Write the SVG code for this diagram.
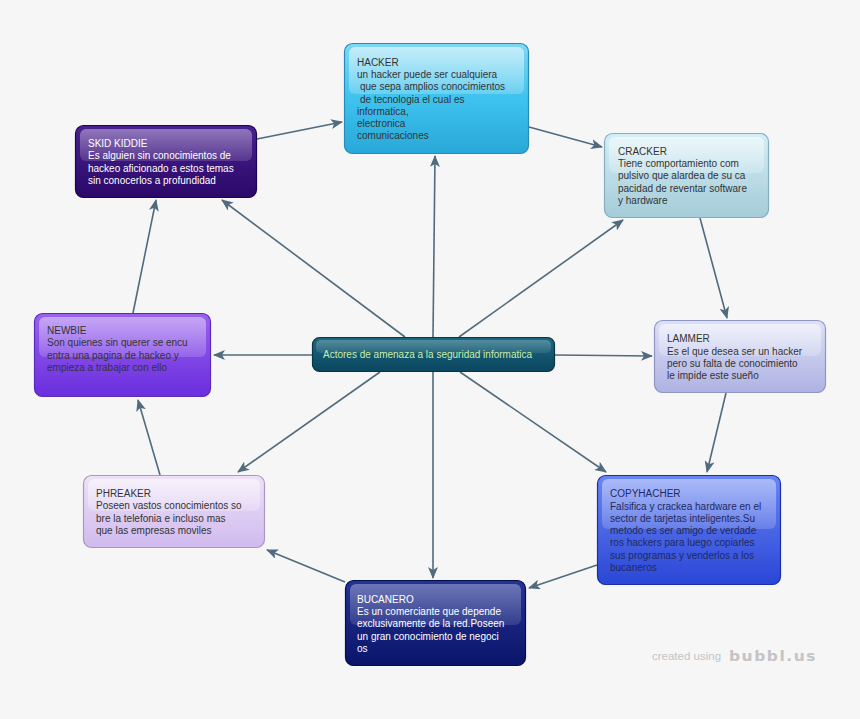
<svg xmlns="http://www.w3.org/2000/svg" width="860" height="719" viewBox="0 0 860 719">
<style>
.t{font-family:"Liberation Sans",Arial,sans-serif;font-size:10px;}
.dk{fill:#333333;}
.lt{fill:#ffffff;}
.edge{stroke:#4f6b7d;stroke-width:1.6;fill:none;marker-end:url(#ah);}
.box{stroke-width:1.2;}
.hl{fill:url(#gl);}
</style>
<defs>
<marker id="ah" viewBox="0 0 12 10" refX="11" refY="5" markerWidth="12" markerHeight="10" markerUnits="userSpaceOnUse" orient="auto">
<path d="M0,0 L12,5 L0,10 L3,5 Z" fill="#4f6b7d"/>
</marker>
<linearGradient id="gl" x1="0" y1="0" x2="0" y2="1">
<stop offset="0" stop-color="#fff" stop-opacity="0.55"/>
<stop offset="1" stop-color="#fff" stop-opacity="0.2"/>
</linearGradient>
<linearGradient id="gHack" x1="0" y1="0" x2="0" y2="1"><stop offset="0" stop-color="#7ed8f4"/><stop offset="0.5" stop-color="#3ec2ee"/><stop offset="1" stop-color="#28a8d8"/></linearGradient>
<linearGradient id="gSkid" x1="0" y1="0" x2="0" y2="1"><stop offset="0" stop-color="#4a2290"/><stop offset="1" stop-color="#2a0868"/></linearGradient>
<linearGradient id="gCrack" x1="0" y1="0" x2="0" y2="1"><stop offset="0" stop-color="#d4eef6"/><stop offset="1" stop-color="#a4ccd8"/></linearGradient>
<linearGradient id="gNew" x1="0" y1="0" x2="0" y2="1"><stop offset="0" stop-color="#9a62ee"/><stop offset="1" stop-color="#6a2ede"/></linearGradient>
<linearGradient id="gLam" x1="0" y1="0" x2="0" y2="1"><stop offset="0" stop-color="#dde1f6"/><stop offset="1" stop-color="#aeb2e2"/></linearGradient>
<linearGradient id="gCen" x1="0" y1="0" x2="0" y2="1"><stop offset="0" stop-color="#1c6880"/><stop offset="1" stop-color="#0b4660"/></linearGradient>
<linearGradient id="gPh" x1="0" y1="0" x2="0" y2="1"><stop offset="0" stop-color="#ede2f8"/><stop offset="1" stop-color="#d0baee"/></linearGradient>
<linearGradient id="gCopy" x1="0" y1="0" x2="0" y2="1"><stop offset="0" stop-color="#6a86f4"/><stop offset="1" stop-color="#2a46d6"/></linearGradient>
<linearGradient id="gBuc" x1="0" y1="0" x2="0" y2="1"><stop offset="0" stop-color="#243494"/><stop offset="1" stop-color="#0a146a"/></linearGradient>
</defs>
<rect x="0" y="0" width="860" height="719" fill="#f6f6f6"/>

<g id="connectors">
<line class="edge" x1="433" y1="337" x2="435" y2="156"/>
<line class="edge" x1="405" y1="337" x2="222" y2="200"/>
<line class="edge" x1="459" y1="337" x2="623" y2="220"/>
<line class="edge" x1="312" y1="355" x2="214" y2="355"/>
<line class="edge" x1="555" y1="355" x2="652" y2="356"/>
<line class="edge" x1="380" y1="372" x2="238" y2="472"/>
<line class="edge" x1="460" y1="372" x2="606" y2="472"/>
<line class="edge" x1="433" y1="372" x2="433" y2="578"/>
<line class="edge" x1="257" y1="139" x2="342" y2="122"/>
<line class="edge" x1="529" y1="127" x2="602" y2="147"/>
<line class="edge" x1="700" y1="218" x2="727" y2="318"/>
<line class="edge" x1="726" y1="393" x2="707" y2="472"/>
<line class="edge" x1="597" y1="565" x2="529" y2="588"/>
<line class="edge" x1="345" y1="582" x2="267" y2="550"/>
<line class="edge" x1="160" y1="475" x2="138" y2="400"/>
<line class="edge" x1="133" y1="313" x2="156" y2="200"/>
</g>

<g id="hacker">
<rect class="box" x="344.5" y="43.5" width="184" height="110" rx="8" fill="url(#gHack)" stroke="#2a8ab5"/>
<rect class="hl" x="349" y="47" width="175" height="47" rx="6"/>
<text class="t dk"><tspan x="357" y="66">HACKER</tspan><tspan x="357" y="78">un hacker puede ser cualquiera</tspan><tspan x="360" y="90">que sepa amplios conocimientos</tspan><tspan x="360" y="102.5">de tecnologia el cual es</tspan><tspan x="357" y="114.5">informatica,</tspan><tspan x="357" y="127">electronica</tspan><tspan x="357" y="139">comunicaciones</tspan></text>
</g>

<g id="skid">
<rect class="box" x="75.5" y="125.5" width="181" height="72" rx="8" fill="url(#gSkid)" stroke="#1a0550"/>
<rect class="hl" x="80" y="129" width="172" height="32" rx="6" opacity="0.7"/>
<text class="t lt"><tspan x="88" y="147">SKID KIDDIE</tspan><tspan x="88" y="159">Es alguien sin conocimientos de</tspan><tspan x="88" y="172">hackeo aficionado a estos temas</tspan><tspan x="88" y="184">sin conocerlos a profundidad</tspan></text>
</g>

<g id="cracker">
<rect class="box" x="604.5" y="133.5" width="164" height="84" rx="8" fill="url(#gCrack)" stroke="#86aebe"/>
<rect class="hl" x="609" y="137" width="155" height="36" rx="6"/>
<text class="t dk"><tspan x="618" y="155">CRACKER</tspan><tspan x="618" y="167">Tiene comportamiento com</tspan><tspan x="618" y="179">pulsivo que alardea de su ca</tspan><tspan x="618" y="192">pacidad de reventar software</tspan><tspan x="618" y="204">y hardware</tspan></text>
</g>

<g id="newbie">
<rect class="box" x="34.5" y="313.5" width="176" height="83" rx="8" fill="url(#gNew)" stroke="#5a2ab8"/>
<rect class="hl" x="39" y="317" width="167" height="40" rx="6" opacity="0.8"/>
<text class="t dk"><tspan x="47" y="334">NEWBIE</tspan><tspan x="47" y="346">Son quienes sin querer se encu</tspan><tspan x="47" y="359">entra una pagina de hackeo y</tspan><tspan x="47" y="371">empieza a trabajar con ello</tspan></text>
</g>

<g id="lammer">
<rect class="box" x="654.5" y="320.5" width="171" height="72" rx="8" fill="url(#gLam)" stroke="#8f96c6"/>
<rect class="hl" x="659" y="324" width="162" height="32" rx="6"/>
<text class="t dk"><tspan x="667" y="342">LAMMER</tspan><tspan x="667" y="355">Es el que desea ser un hacker</tspan><tspan x="667" y="367">pero su falta de conocimiento</tspan><tspan x="667" y="379">le impide este sueño</tspan></text>
</g>

<g id="center">
<rect class="box" x="312.5" y="337.5" width="242" height="34" rx="7" fill="url(#gCen)" stroke="#0a3448"/>
<rect class="hl" x="316" y="340" width="235" height="13" rx="5" opacity="0.45"/>
<text class="t" x="323" y="358" fill="#c8f0a8">Actores de amenaza a la seguridad informatica</text>
</g>

<g id="phreaker">
<rect class="box" x="83.5" y="475.5" width="181" height="72" rx="8" fill="url(#gPh)" stroke="#a898c2"/>
<rect class="hl" x="88" y="479" width="172" height="32" rx="6"/>
<text class="t dk"><tspan x="96" y="497">PHREAKER</tspan><tspan x="96" y="509">Poseen vastos conocimientos so</tspan><tspan x="96" y="522">bre la telefonia e incluso mas</tspan><tspan x="96" y="534">que las empresas moviles</tspan></text>
</g>

<g id="copyhacher">
<rect class="box" x="597.5" y="475.5" width="183" height="109" rx="8" fill="url(#gCopy)" stroke="#1a30a8"/>
<rect class="hl" x="602" y="479" width="174" height="50" rx="6" opacity="0.8"/>
<text class="t" fill="#1e2a60"><tspan x="610" y="497">COPYHACHER</tspan><tspan x="610" y="510">Falsifica y crackea hardware en el</tspan><tspan x="610" y="522">sector de tarjetas inteligentes.Su</tspan><tspan x="610" y="534">metodo es ser amigo de verdade</tspan><tspan x="610" y="546">ros hackers para luego copiarles</tspan><tspan x="610" y="559">sus programas y venderlos a los</tspan><tspan x="610" y="571">bucaneros</tspan></text>
</g>

<g id="bucanero">
<rect class="box" x="345.5" y="580.5" width="180" height="85" rx="8" fill="url(#gBuc)" stroke="#060c50"/>
<rect class="hl" x="350" y="584" width="171" height="41" rx="6" opacity="0.6"/>
<text class="t lt"><tspan x="357" y="603">BUCANERO</tspan><tspan x="357" y="615">Es un comerciante que depende</tspan><tspan x="357" y="627">exclusivamente de la red.Poseen</tspan><tspan x="357" y="640">un gran conocimiento de negoci</tspan><tspan x="357" y="652">os</tspan></text>
</g>

<g id="watermark">
<text x="652" y="660" font-family="'Liberation Sans',Arial,sans-serif" font-size="11.5" fill="#c4c4c4">created using</text>
<text x="729" y="661" font-family="'DejaVu Sans',sans-serif" font-weight="bold" font-size="14" letter-spacing="1.4" fill="#c4c4c4" textLength="88" lengthAdjust="spacingAndGlyphs">bubbl.us</text>
</g>
</svg>
